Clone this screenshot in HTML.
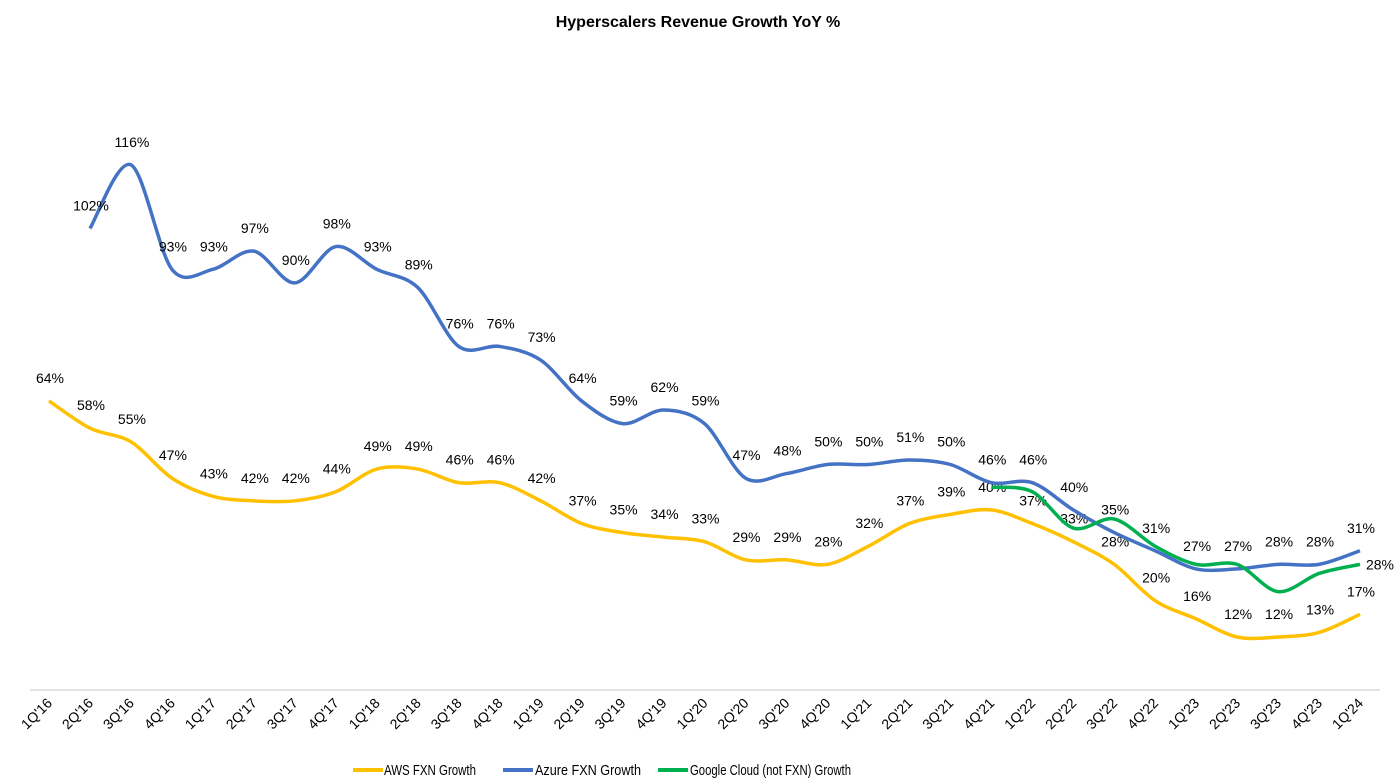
<!DOCTYPE html>
<html><head><meta charset="utf-8"><style>
body{margin:0;background:#fff;font-family:"Liberation Sans",Arial,sans-serif}
svg{display:block}
</style></head><body>
<svg id="chart" width="1396" height="783">
<text x="698" y="27" text-anchor="middle" font-size="16" font-weight="bold">Hyperscalers Revenue Growth YoY %</text>
<line x1="30" y1="690" x2="1380" y2="690" stroke="#d9d9d9" stroke-width="1.5"/>
<g id="series"></g>
<g id="xlabels"></g>
<g font-size="15">
<g><line x1="353" y1="770" x2="383" y2="770" stroke="#ffc000" stroke-width="4"/><text x="384" y="775" textLength="92" lengthAdjust="spacingAndGlyphs">AWS FXN Growth</text></g>
<g><line x1="503" y1="770" x2="533" y2="770" stroke="#4472c4" stroke-width="4"/><text x="535" y="775" textLength="106" lengthAdjust="spacingAndGlyphs">Azure FXN Growth</text></g>
<g><line x1="658" y1="770" x2="688" y2="770" stroke="#00b050" stroke-width="4"/><text x="690" y="775" textLength="161" lengthAdjust="spacingAndGlyphs">Google Cloud (not FXN) Growth</text></g>
</g>
</svg>
<script>
const categories=["1Q'16","2Q'16","3Q'16","4Q'16","1Q'17","2Q'17","3Q'17","4Q'17","1Q'18","2Q'18","3Q'18","4Q'18","1Q'19","2Q'19","3Q'19","4Q'19","1Q'20","2Q'20","3Q'20","4Q'20","1Q'21","2Q'21","3Q'21","4Q'21","1Q'22","2Q'22","3Q'22","4Q'22","1Q'23","2Q'23","3Q'23","4Q'23","1Q'24"];
const awsValues=[64,58,55,47,43,42,42,44,49,49,46,46,42,37,35,34,33,29,29,28,32,37,39,40,37,33,28,20,16,12,12,13,17];
const azureValues=[null,102,116,93,93,97,90,98,93,89,76,76,73,64,59,62,59,47,48,50,50,51,50,46,46,40,35,31,27,27,28,28,31];
const googleValues=[null,null,null,null,null,null,null,null,null,null,null,null,null,null,null,null,null,null,null,null,null,null,null,45,44,36,38,32,28,28,22,26,28];
const NS="http://www.w3.org/2000/svg";
function xScale(i){return 49+i*(1360-49)/32;}
function yScale(v){return 691.5-v*4.54;}
function smooth(pts){
  let d="M"+pts[0][0]+","+pts[0][1];
  for(let i=0;i<pts.length-1;i++){
    const p0=pts[i-1]||pts[i],p1=pts[i],p2=pts[i+1],p3=pts[i+2]||p2;
    const t=0.16;
    d+=" C"+(p1[0]+(p2[0]-p0[0])*t)+","+(p1[1]+(p2[1]-p0[1])*t)+" "+(p2[0]-(p3[0]-p1[0])*t)+","+(p2[1]-(p3[1]-p1[1])*t)+" "+p2[0]+","+p2[1];
  }
  return d;
}
const g=document.getElementById('series');
function draw(vals,color,name,labelMode){
  const pts=[];const idx=[];
  vals.forEach((v,i)=>{if(v!==null){pts.push([xScale(i),yScale(v)]);idx.push(i);}});
  const p=document.createElementNS(NS,'path');
  p.setAttribute('d',smooth(pts));p.setAttribute('fill','none');p.setAttribute('stroke',color);p.setAttribute('stroke-width','3.5');
  
  
  g.appendChild(p);
  idx.forEach((i,k)=>{
    if(labelMode==='last'&&k!==idx.length-1)return;
    const t=document.createElementNS(NS,'text');
    const isLast=labelMode==='last';
    t.setAttribute('x',isLast?pts[k][0]+20:pts[k][0]+1);
    t.setAttribute('y',isLast?pts[k][1]+5:pts[k][1]-18);
    t.setAttribute('text-anchor','middle');t.setAttribute('font-size','14');
    t.textContent=vals[i]+'%';
    
    
    g.appendChild(t);
  });
}
draw(awsValues,'#ffc000','aws','all');
draw(azureValues,'#4472c4','azure','all');
draw(googleValues,'#00b050','google','last');
const xl=document.getElementById('xlabels');
categories.forEach((c,i)=>{
  const t=document.createElementNS(NS,'text');
  const x=xScale(i)+4,y=704;
  t.setAttribute('x',x);t.setAttribute('y',y);t.setAttribute('text-anchor','end');t.setAttribute('font-size','14');
  t.setAttribute('transform','rotate(-45 '+x+' '+y+')');
  t.textContent=c;
  
  
  xl.appendChild(t);
});
</script>
</body></html>
